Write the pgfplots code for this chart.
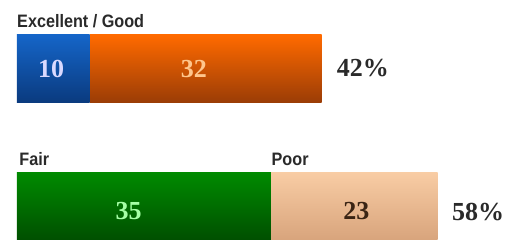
\documentclass[border=0pt]{standalone}
\usepackage{pgfplots}
\pgfplotsset{compat=1.18}
\usepackage{fontspec}
\setmainfont{Liberation Serif}
\newfontfamily\labfont[FakeStretch=0.9]{Liberation Sans}
\definecolor{bluetop}{HTML}{1565C8}
\definecolor{bluebot}{HTML}{0A3A7E}
\definecolor{orgtop}{HTML}{FF6A00}
\definecolor{orgbot}{HTML}{9A3C06}
\definecolor{grntop}{HTML}{008A00}
\definecolor{grnbot}{HTML}{004F00}
\definecolor{tantop}{HTML}{F8CCA4}
\definecolor{tanbot}{HTML}{D8A47C}
\definecolor{labgray}{HTML}{2A2A2A}
\definecolor{darkbrown}{HTML}{3A2414}
\pgfplotsset{
  base/.style={
    scale only axis, width=511pt, height=120pt,
    xmin=-2.3448, xmax=68.138,
    hide axis, clip=false, xbar stacked,
  },
}
\tikzset{
  numlab/.style={font=\fontsize{26}{26}\selectfont\bfseries, anchor=center},
  catlab/.style={font=\labfont\fontsize{18}{18}\selectfont\bfseries, text=labgray, anchor=base west, inner sep=0pt},
}
\begin{document}
\begin{tikzpicture}
% top bar (Excellent / Good)
\begin{axis}[base, at={(0,120pt)}, ymin=120, ymax=240, bar width=68pt]
\addplot[draw=none, top color=bluetop, bottom color=bluebot] coordinates {(10,171)};
\addplot[draw=none, top color=orgtop, bottom color=orgbot] coordinates {(32,171)};
\path (rel axis cs:0,0) rectangle (rel axis cs:1,1);
\node[catlab] at (axis cs:0,212) {Excellent / Good};
\coordinate (n10) at (axis cs:4.7,171);
\coordinate (n32) at (axis cs:24.4,171);
\coordinate (n42) at (axis cs:47.7,172);
\end{axis}
% bottom bar (Fair / Poor)
\begin{axis}[base, at={(0,0)}, ymin=0, ymax=120, bar width=67pt]
\addplot[draw=none, top color=grntop, bottom color=grnbot] coordinates {(35,33.5)};
\addplot[draw=none, top color=tantop, bottom color=tanbot] coordinates {(23,33.5)};
\path (rel axis cs:0,0) rectangle (rel axis cs:1,1);
\node[catlab] at (axis cs:0.3,74) {Fair};
\node[catlab] at (axis cs:35.1,74) {Poor};
\coordinate (n35) at (axis cs:15.4,29);
\coordinate (n23) at (axis cs:46.8,29);
\coordinate (n58) at (axis cs:63.6,28);
\end{axis}
\node[numlab, text=white!85!blue] at (n10) {10};
\node[numlab, text=orange!45!white] at (n32) {32};
\node[numlab, text=labgray] at (n42) {42\%};
\node[numlab, text=green!35!white] at (n35) {35};
\node[numlab, text=darkbrown] at (n23) {23};
\node[numlab, text=labgray] at (n58) {58\%};
\end{tikzpicture}
\end{document}
